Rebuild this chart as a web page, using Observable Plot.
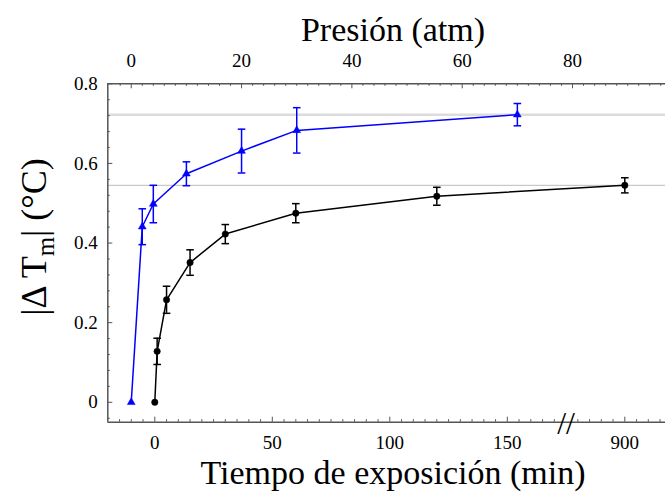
<!DOCTYPE html>
<html><head><meta charset="utf-8">
<script src="https://cdn.jsdelivr.net/npm/d3@7"></script>
<script src="https://cdn.jsdelivr.net/npm/@observablehq/plot@0.6"></script>
<style>
body{margin:0;background:#fff;}
#wrap{position:relative;width:665px;height:492px;overflow:hidden;background:#fff;}
#wrap svg{position:absolute;left:0;top:0;}
#wrap svg, #wrap svg text{font-family:'Liberation Serif','Times New Roman',serif;}
</style></head><body><div id="wrap"></div>
<script>
// ---- data ----
const timeMin = [0, 1, 5, 15, 30, 60, 120, 900];
const timeDT  = [0, 0.128, 0.2575, 0.351, 0.4225, 0.475, 0.5175, 0.545];
const timeErr = [0, 0.033, 0.034, 0.032, 0.024, 0.024, 0.0225, 0.019];
const pressAtm = [0, 2, 4, 10, 20, 30, 70];
const pressDT  = [0, 0.441, 0.498, 0.574, 0.631, 0.683, 0.7225];
const pressErr = [0, 0.045, 0.047, 0.030, 0.055, 0.057, 0.028];
const refLines = [0.7225, 0.545];
const bottomTicks = [0, 50, 100, 150, 900];
const topTicks = [0, 20, 40, 60, 80];
const yTicks = [0, 0.2, 0.4, 0.6, 0.8];
const breakAt = 175;      // axis break position (min scale)
const breakShift = 700;   // values beyond the break are shifted by this

// ---- layout ----
const W = 665, H = 492;
const X0 = 107.3, X1 = 671.3, YT = 83.3, YB = 421.7;
const fontFam = "'Liberation Serif','Times New Roman',serif";
const axisColor = "#555";
const brk = t => (t > breakAt ? t - breakShift : t);

const tData = timeMin.map((t, i) => ({x: brk(t), y: timeDT[i], e: timeErr[i]}));
const pData = pressAtm.map((p, i) => ({x: p, y: pressDT[i], e: pressErr[i]}));
const capSymbol = {draw(ctx) { ctx.moveTo(-3.8, 0); ctx.lineTo(3.8, 0); }};

const bMajor = bottomTicks.map(brk);
const bMinor = d3.range(-15, 171, 5).concat(d3.range(180, 216, 5)).filter(v => !bMajor.includes(v));
const tMinor = d3.range(-2, 97, 2).filter(v => !topTicks.includes(v));
const yMinor = d3.range(-1, 20).map(i => +(i * 0.04).toFixed(2)).filter(v => !yTicks.some(t => Math.abs(t - v) < 1e-9));

const base = {
  width: W, height: H, marginLeft: X0, marginRight: 0, marginTop: YT, marginBottom: H - YB,
  style: {fontFamily: fontFam, fontSize: "19px", background: "transparent", color: "black", overflow: "visible"}
};
const yScale = {domain: [-0.05, 0.8], range: [YB, YT]};
const errs = d => d.filter(r => r.e > 0);

const plotA = Plot.plot({
  ...base,
  x: {domain: [-20, 220], range: [X0, X1]},
  y: yScale,
  marks: [
    Plot.ruleY([refLines[0]], {stroke: "#dcdcdc", strokeWidth: 2.5}),
    Plot.ruleY([refLines[1]], {stroke: "#bcbcbc", strokeWidth: 1}),
    Plot.ruleY([-0.05, 0.8], {stroke: axisColor, strokeWidth: 1.5}),
    Plot.ruleX([-20], {stroke: axisColor, strokeWidth: 1.5}),
    Plot.ruleX(bMinor, {stroke: axisColor, insetTop: (YB - YT) - 2.5}),
    Plot.ruleX(bMajor, {stroke: axisColor, insetTop: (YB - YT) - 5}),
    Plot.ruleY(yMinor, {stroke: axisColor, insetRight: (W - X0) - 2.5}),
    Plot.ruleY(yTicks, {stroke: axisColor, insetRight: (W - X0) - 5}),
    Plot.axisX({ticks: bMajor, tickSize: 0, tickPadding: 13, label: null, fontSize: 19, fontFamily: fontFam,
      tickFormat: d => String(d > breakAt ? d + breakShift : d)}),
    Plot.axisY({ticks: yTicks, tickSize: 0, tickPadding: 10, label: null, fontSize: 19, fontFamily: fontFam,
      tickFormat: d => (d === 0 ? "0" : d.toFixed(1))}),
    Plot.text([breakAt], {x: d => d, frameAnchor: "bottom", lineAnchor: "middle", text: () => "//",
      fontSize: 32, fontFamily: fontFam, dy: 2}),
    Plot.line(tData, {x: "x", y: "y", stroke: "black", strokeWidth: 1.5}),
    Plot.ruleX(errs(tData), {x: "x", y1: d => d.y - d.e, y2: d => d.y + d.e, stroke: "black", strokeWidth: 1.5}),
    Plot.dot(errs(tData), {x: "x", y: d => d.y - d.e, symbol: capSymbol, stroke: "black", strokeWidth: 1.5}),
    Plot.dot(errs(tData), {x: "x", y: d => d.y + d.e, symbol: capSymbol, stroke: "black", strokeWidth: 1.5}),
    Plot.dot(tData, {x: "x", y: "y", r: 3.2, fill: "black", stroke: "black", strokeWidth: 0.5})
  ]
});

const plotB = Plot.plot({
  ...base,
  x: {domain: [-4.25, 98], range: [X0, X1]},
  y: {...yScale, axis: null},
  marks: [
    Plot.ruleX(tMinor, {stroke: axisColor, insetBottom: (YB - YT) - 2.5}),
    Plot.ruleX(topTicks, {stroke: axisColor, insetBottom: (YB - YT) - 5}),
    Plot.axisX({anchor: "top", ticks: topTicks, tickSize: 0, tickPadding: 17, label: null, fontSize: 19, fontFamily: fontFam}),
    Plot.line(pData, {x: "x", y: "y", stroke: "#0000ff", strokeWidth: 1.5}),
    Plot.ruleX(errs(pData), {x: "x", y1: d => d.y - d.e, y2: d => d.y + d.e, stroke: "#0000ff", strokeWidth: 1.5}),
    Plot.dot(errs(pData), {x: "x", y: d => d.y - d.e, symbol: capSymbol, stroke: "#0000ff", strokeWidth: 1.5}),
    Plot.dot(errs(pData), {x: "x", y: d => d.y + d.e, symbol: capSymbol, stroke: "#0000ff", strokeWidth: 1.5}),
    Plot.dot(pData, {x: "x", y: "y", symbol: "triangle", r: 2.9, fill: "#0000ff", stroke: "#0000ff", strokeWidth: 0.5})
  ]
});

const wrap = document.getElementById("wrap");
wrap.appendChild(plotA);
wrap.appendChild(plotB);

const NS = "http://www.w3.org/2000/svg";
const labels = d3.select(wrap).append("svg")
  .attr("xmlns", NS).attr("width", W).attr("height", H)
  .style("font-family", fontFam).attr("fill", "black");
labels.append("text").attr("x", 393).attr("y", 41).attr("text-anchor", "middle")
  .attr("font-size", 34).text("Presión (atm)");
labels.append("text").attr("x", 393).attr("y", 484).attr("text-anchor", "middle")
  .attr("font-size", 34).text("Tiempo de exposición (min)");
const yl = labels.append("text").attr("transform", "translate(46,237) rotate(-90)")
  .attr("text-anchor", "middle").attr("font-size", 36);
yl.append("tspan").text("|\u0394 T");
yl.append("tspan").attr("dy", 8).attr("font-size", 25).text("m");
yl.append("tspan").attr("dy", -8).text("| (\u00B0C)");
</script>
</body></html>
